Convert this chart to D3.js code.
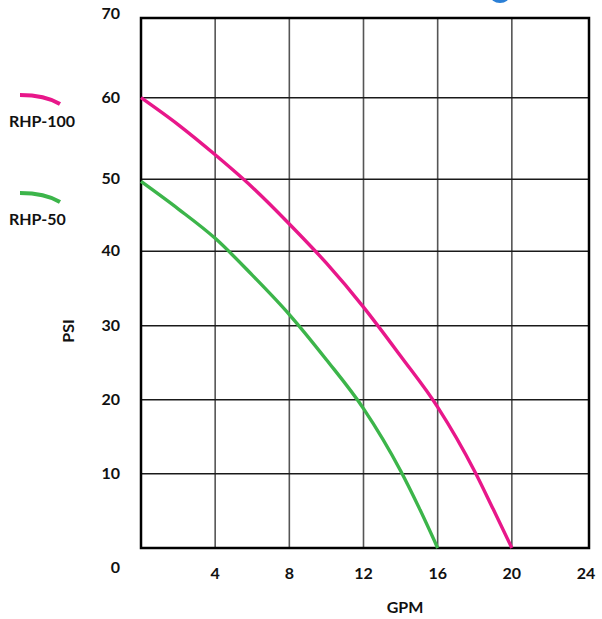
<!DOCTYPE html>
<html>
<head>
<meta charset="utf-8">
<script src="https://cdn.jsdelivr.net/npm/d3@7"></script>
<style>
  body { margin: 0; background: #fff; }
  text { font-family: Lato, "Open Sans", sans-serif; font-weight: bold; fill: #111; }
</style>
</head>
<body>
<script>
// data
var gpm = [0, 2, 4, 6, 8, 10, 12, 14, 16, 18, 19, 20];
var rhp100 = [60, 56.7, 53, 48.9, 43.8, 38.4, 32.5, 25.9, 19, 10.3, 5.2, 0];
var gpm50 = [0, 2, 4, 6, 8, 10, 12, 14, 15, 16];
var rhp50 = [49.7, 45.9, 41.8, 36.8, 31.5, 25.4, 18.8, 10.4, 5.4, 0];
var seriesNames = ["RHP-100", "RHP-50"];
var seriesColors = ["#e8178a", "#3cb54a"];
var xTicks = [4, 8, 12, 16, 20, 24];
var yTicks = [10, 20, 30, 40, 50, 60, 70];

var width = 602, height = 619;
var svg = d3.select("body").append("svg").attr("width", width).attr("height", height);

// plot frame
var plotLeft = 141, plotRight = 589, plotTop = 18, plotBottom = 548;

var x = d3.scaleLinear().domain([0, 24]).range([plotLeft, 586]);
// the original grid is not evenly spaced, so the y scale follows its rows
var y = d3.scaleLinear()
    .domain([0, 10, 20, 30, 40, 50, 60, 70])
    .range([plotBottom, 473.7, 399.7, 325.7, 251.3, 179.3, 97.7, plotTop]);

// vertical grid
svg.append("g").selectAll("line")
    .data(xTicks.filter(function(d){ return d < 24; }))
    .enter().append("line")
    .attr("x1", function(d){ return x(d); })
    .attr("x2", function(d){ return x(d); })
    .attr("y1", plotTop).attr("y2", plotBottom)
    .style("stroke", "#555").style("stroke-width", 1.6);

// horizontal grid
svg.append("g").selectAll("line")
    .data(yTicks.filter(function(d){ return d < 70; }))
    .enter().append("line")
    .attr("x1", plotLeft).attr("x2", plotRight)
    .attr("y1", function(d){ return y(d); })
    .attr("y2", function(d){ return y(d); })
    .style("stroke", "#1a1a1a").style("stroke-width", 1.6);

svg.append("rect")
    .attr("x", plotLeft).attr("y", plotTop)
    .attr("width", plotRight - plotLeft).attr("height", plotBottom - plotTop)
    .style("fill", "none").style("stroke", "#000").style("stroke-width", 2.5);

// curves
var line = d3.line()
    .x(function(d){ return x(d[0]); })
    .y(function(d){ return y(d[1]); })
    .curve(d3.curveMonotoneX);

var curves = [d3.zip(gpm, rhp100), d3.zip(gpm50, rhp50)];
svg.append("g").selectAll("path")
    .data(curves)
    .enter().append("path")
    .attr("d", line)
    .style("fill", "none")
    .style("stroke", function(d, i){ return seriesColors[i]; })
    .style("stroke-width", 3.4);

// tick labels
svg.append("g").selectAll("text")
    .data(yTicks)
    .enter().append("text")
    .attr("x", 120)
    .attr("y", function(d){ return d == 70 ? 19 : y(d) + 5; })
    .attr("text-anchor", "end")
    .style("font-size", "16px")
    .text(function(d){ return d; });

svg.append("g").selectAll("text")
    .data(xTicks)
    .enter().append("text")
    .attr("x", function(d){ return x(d); })
    .attr("y", 579)
    .attr("text-anchor", "middle")
    .style("font-size", "16px")
    .text(function(d){ return d; });

svg.append("text").attr("x", 120).attr("y", 573)
    .attr("text-anchor", "end").style("font-size", "16px").text(0);

// axis titles
svg.append("text").attr("x", 405).attr("y", 613)
    .attr("text-anchor", "middle").style("font-size", "16px").text("GPM");
svg.append("text")
    .attr("transform", "translate(74,331) rotate(-90)")
    .attr("text-anchor", "middle").style("font-size", "16px").text("PSI");

// legend
var legendY = [95, 193];
var legend = svg.append("g").selectAll("g")
    .data(seriesNames)
    .enter().append("g")
    .attr("transform", function(d, i){ return "translate(0," + legendY[i] + ")"; });

legend.append("path")
    .attr("d", "M20,0 Q45,0 60,9")
    .style("fill", "none")
    .style("stroke", function(d, i){ return seriesColors[i]; })
    .style("stroke-width", 4);

legend.append("text")
    .attr("x", 9).attr("y", 32)
    .style("font-size", "16px")
    .text(function(d){ return d; });

// bit of a logo peeking in at the top
svg.append("ellipse")
    .attr("cx", 500).attr("cy", -5)
    .attr("rx", 10).attr("ry", 8)
    .style("fill", "#2b7fd6");
</script>
</body>
</html>
